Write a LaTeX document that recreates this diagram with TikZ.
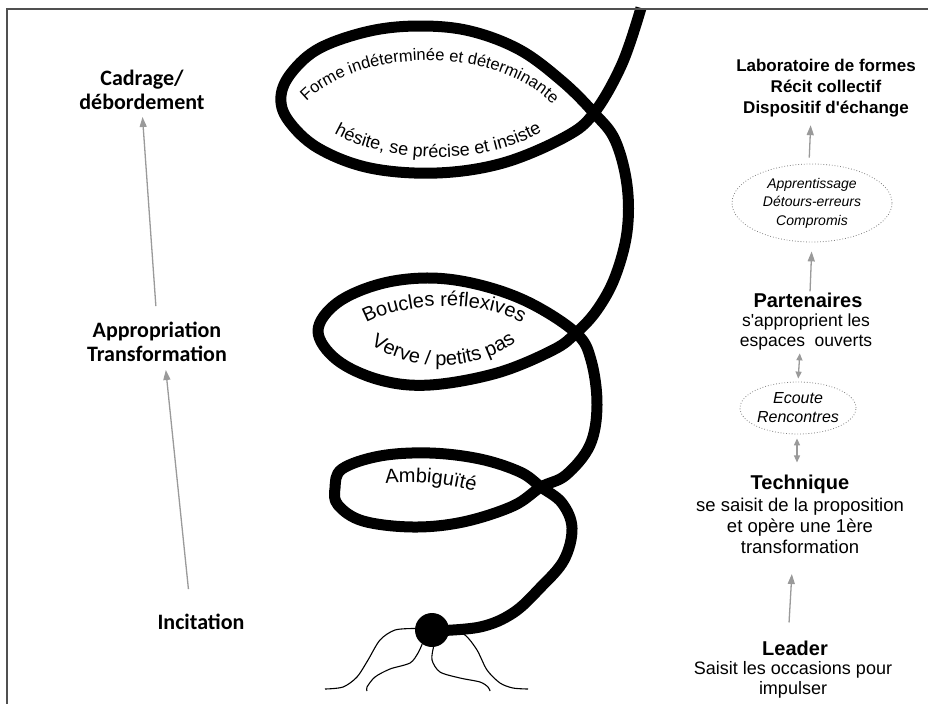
\documentclass[tikz,border=0pt]{standalone}
\usepackage{fontspec}
\setmainfont{Liberation Sans}
\newfontfamily\calfont{Carlito}
\usetikzlibrary{decorations.text,arrows.meta,shapes.geometric}
\definecolor{arrgray}{HTML}{9A9A9A}
\definecolor{framegray}{HTML}{505050}
\begin{document}
\begin{tikzpicture}[x=1pt,y=-1pt,
  spiral/.style={line width=11pt, line join=round},
  rootline/.style={line width=1.1pt},
  garrow/.style={draw=arrgray, line width=1.3pt, -{Triangle[length=10pt,width=7pt]}},
  gdarrow/.style={draw=arrgray, line width=1.3pt, {Triangle[length=7pt,width=6pt]}-{Triangle[length=7pt,width=6pt]}},
  dotell/.style={ellipse, draw=gray, dotted, line width=0.8pt, inner sep=0pt, align=center, font=\itshape\fontsize{14}{18.5}\selectfont},
  lefttxt/.style={align=center, inner sep=0pt, font=\calfont\bfseries\fontsize{22}{24}\selectfont},
  headtxt/.style={align=center, inner sep=0pt, font=\bfseries\fontsize{20}{22}\selectfont},
  bodytxt/.style={align=center, inner sep=0pt, font=\fontsize{18.5}{21}\selectfont},
  curvetxt/.style={decorate, decoration={text along path, text align=center, text={#1}}}
]
\useasboundingbox (0,0) rectangle (928,704);

% spiral
\draw[spiral] plot[smooth, tension=0.6] coordinates {
 (641,8) (622,64) (594,113) (565,137) (503,163) (437,173) (370,168) (318,148) (288,120) (281,96) (292,72) (320,48) (370,31) (420,26) (470,31) (520,50) (563,82) (594,113) (615,140) (627,185) (627,232) (615,277) (597,310) (576,333) (553,350) (497,373) (430,385) (380,380) (337,360) (318,331) (337,303) (380,284) (430,278) (480,285) (530,303) (576,333) (591,360) (597,405) (590,445) (566,475) (541,487) (513,506) (463,522) (413,527) (363,521) (338,505) (335,488) (342,469) (380,456) (430,453) (480,459) (520,472) (541,487) (562,503) (572,528) (564,560) (540,588) (513,613) (480,627) (432,631)};

\node[circle, fill=black, minimum size=34pt, inner sep=0pt] (dot) at (432,630) {};
\draw[rootline] plot[smooth] coordinates {(dot.175) (395,630) (380,640) (368,660) (357,677) (343,687) (325,689)};
\draw[rootline] plot[smooth] coordinates {(dot.235) (418,653) (410,663) (390,669) (375,677) (367,687) (367,691)};
\draw[rootline] plot[smooth] coordinates {(dot.275) (432,660) (440,672) (460,678) (480,682) (488,687) (490,691)};
\draw[rootline] plot[smooth] coordinates {(dot.5) (465,635) (477,650) (487,670) (500,683) (513,688) (528,689)};

% curved texts
\path[curvetxt={|\fontsize{16.5}{20}\selectfont|Forme indéterminée et déterminante}] (294,118) .. controls (334,46) and (508,36) .. (566,120);
\path[curvetxt={|\fontsize{18}{20}\selectfont|hésite, se précise et insiste}] (322,126) .. controls (378,166) and (492,170) .. (554,124);
\path[curvetxt={|\fontsize{20}{22}\selectfont|Boucles réflexives}] (352,333) .. controls (388,300) and (494,294) .. (536,333);
\path[curvetxt={|\fontsize{20}{22}\selectfont|Verve / petits pas}] (358,334) .. controls (398,374) and (484,378) .. (528,331);
\path[curvetxt={|\fontsize{20}{22}\selectfont|Ambiguïté}] (374,485) .. controls (408,479) and (452,483) .. (486,495);

% left column
\node[lefttxt] (cad) at (142,90) {Cadrage/\\débordement};
\node[lefttxt] (app) at (157,342) {Appropriation\\Transformation};
\node[lefttxt] (inc) at (201,622) {Incitation};
\draw[garrow, shorten <=16pt, shorten >=7pt] (app.north) -- (cad.south);
\draw[garrow, shorten <=25pt, shorten >=8pt] ([xshift=-10pt]inc.north) -- ([xshift=8pt]app.south);

% right column
\node[align=center, inner sep=0pt, font=\bfseries\fontsize{17}{21}\selectfont] (lab) at (826,88) {Laboratoire de formes\\Récit collectif\\Dispositif d\textquotesingle échange};
\node[dotell, minimum width=160pt, minimum height=78pt] (ell1) at (812,203) {Apprentissage\\Détours-erreurs\\Compromis};
\node[headtxt] (part) at (808,300) {Partenaires};
\node[bodytxt, font=\fontsize{17.5}{20}\selectfont] (partd) at (806,332) {s\textquotesingle approprient les\\espaces\ \ ouverts};
\node[dotell, font=\itshape\fontsize{16}{19}\selectfont, minimum width=116pt, minimum height=52pt] (ell2) at (798,408) {Ecoute\\Rencontres};
\node[headtxt] (tech) at (800,484) {Technique};
\node[bodytxt] (techd) at (800,526) {se saisit de la proposition\\et opère une 1ère\\transformation};
\node[headtxt] (lead) at (795,648) {Leader};
\node[bodytxt, font=\fontsize{18}{20}\selectfont] (leadd) at (793,680) {Saisit les occasions pour\\impulser};

\draw[garrow, shorten <=6pt, shorten >=8pt] ([xshift=-3pt]ell1.north) -- ([xshift=-15pt]lab.south);
\draw[garrow, shorten <=1pt, shorten >=9pt] ([xshift=2pt]part.north) -- (ell1.south);
\draw[gdarrow, shorten <=3pt, shorten >=3pt] ([xshift=-6pt]partd.south) -- (ell2.north);
\draw[gdarrow, shorten <=4pt, shorten >=12pt] ([xshift=-1pt]ell2.south) -- ([xshift=-3pt]tech.north);
\draw[garrow, shorten <=18pt, shorten >=20pt] ([xshift=-7pt]lead.north) -- ([xshift=-7pt]techd.south);

% frame
\draw[framegray, line width=2pt] (928,9) -- (7,9) -- (7,704);
\end{tikzpicture}
\end{document}
